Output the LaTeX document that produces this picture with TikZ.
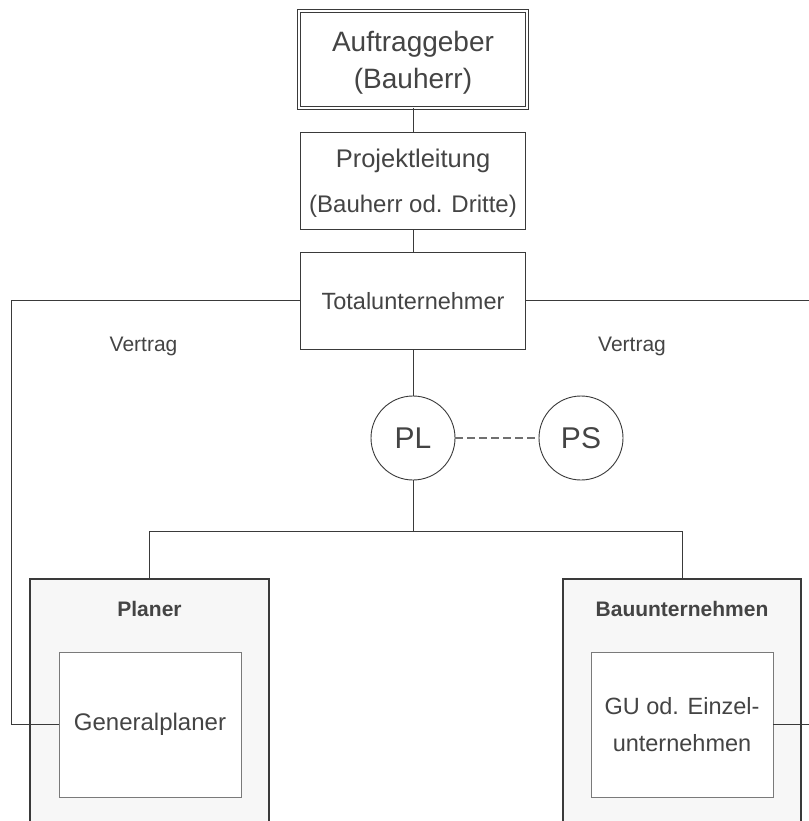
\documentclass[tikz,border=0pt]{standalone}
\usepackage{fontspec}
\setmainfont{Liberation Sans}
\definecolor{ink}{HTML}{444444}
\definecolor{edge}{HTML}{3A3A3A}
\definecolor{panel}{HTML}{F7F7F7}
\definecolor{frame}{HTML}{7A7A7A}
\definecolor{dashcol}{HTML}{707070}

\begin{document}
\begin{tikzpicture}[x=1pt,y=-1pt,
  box/.style={draw=edge, line width=0.9pt, fill=white, text=ink,
    inner sep=0pt, align=center, text depth=0pt},
  role/.style={draw=edge, line width=0.9pt, fill=white, text=ink,
    circle, minimum size=84pt, inner sep=0pt,
    font=\fontsize{30}{36}\selectfont},
  group/.style={draw=edge, line width=1.6pt, fill=panel, inner sep=0pt},
  member/.style={draw=frame, line width=0.9pt, fill=white, text=ink,
    inner sep=0pt, align=center, minimum width=182pt, minimum height=145pt},
  grouplbl/.style={text=ink, font=\fontsize{21}{25}\selectfont\bfseries},
  lbl/.style={text=ink, font=\fontsize{21}{25}\selectfont},
  conn/.style={draw=edge, line width=0.9pt},
  link/.style={draw=dashcol, line width=1.4pt, dash pattern=on 8pt off 4pt}]
\useasboundingbox (0,0) rectangle (808,821);

% client and project management
\node[box, double=white, double distance=2.4pt, minimum width=228pt,
  minimum height=97pt, font=\fontsize{28}{37}\selectfont]
  (auf) at (413,59.5) {Auftraggeber\\(Bauherr)};
\node[box, minimum width=225pt, minimum height=97pt,
  font=\fontsize{24}{45}\selectfont]
  (proj) at (413,180.5)
  {{\fontsize{25.5}{45}\selectfont Projektleitung}\\(Bauherr od. Dritte)};
\node[box, minimum width=225pt, minimum height=97pt,
  font=\fontsize{23.5}{28}\selectfont]
  (tu) at (413,300.5) {Totalunternehmer};

% project leader and project staff
\node[role] (pl) at (413,438) {PL};
\node[role] (ps) at (581,438) {PS};

% planner and contractor groups
\node[group, minimum width=239pt, minimum height=280pt] (plan) at (149.5,719) {};
\node[group, minimum width=238pt, minimum height=280pt] (bau) at (682,719) {};
\node[grouplbl] (planlbl) at (149.5,609) {Planer};
\node[grouplbl] (baulbl) at (682,609) {Bauunternehmen};
\node[member, font=\fontsize{24}{30}\selectfont] (gp) at (150,724.5) {Generalplaner};
\node[member, font=\fontsize{23.5}{37}\selectfont] (gu) at (682,724.5)
  {GU od. Einzel-\\unternehmen};

% contract labels
\node[lbl] (vl) at (143.5,346) {Vertrag};
\node[lbl] (vr) at (632,346) {Vertrag};

% hierarchy connectors
\draw[conn] (auf.south) -- (proj.north);
\draw[conn] (proj.south) -- (tu.north);
\draw[conn] (tu.south) -- (pl.north);
\coordinate (split) at (413,531);
\draw[conn] (pl.south) -- (split);
\draw[conn] (plan.north) -- (plan.north |- split) -- (bau.north |- split) -- (bau.north);
\draw[link] (pl.east) -- (ps.west);

% contract connectors
\coordinate (lk) at (11,300.5);
\coordinate (rk) at (816,300.5);
\draw[conn] (tu.west) -- (lk) |- (gp.west);
\draw[conn] (tu.east) -- (rk) |- (gu.east);
\end{tikzpicture}
\end{document}
